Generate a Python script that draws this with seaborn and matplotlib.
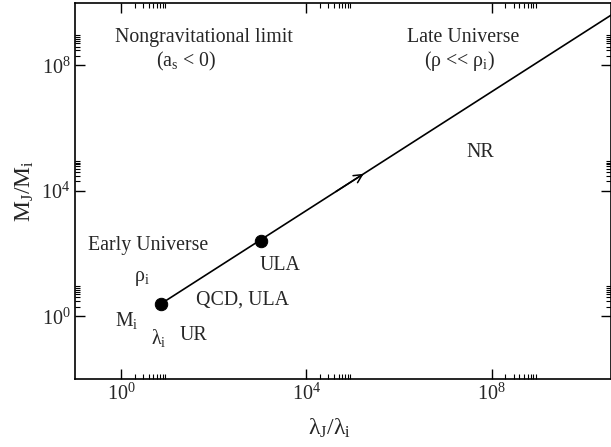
import numpy as np
import pandas as pd
import matplotlib
matplotlib.use("Agg")
import matplotlib.pyplot as plt
import matplotlib.ticker as mticker
import seaborn as sns

# ---- data ----
line_x = [7.4, 1.0e11]          # lambda_J / lambda_i along the track
line_y = [2.54, 1.0e10]         # M_J / M_i along the track
dot_x = [7.4, 1070.0]
dot_y = [2.54, 257.0]
arrow_x = [1.74e5]              # where the direction arrow sits on the track
x_ticks = [1e0, 1e4, 1e8]
y_ticks = [1e0, 1e4, 1e8]
x_limits = [1e-1, 10 ** 10.58]
y_limits = [1e-2, 1e10]

labels = [
    # text, log10 x, log10 y
    ("Nongravitational limit", 1.78, 8.90),
    ("(a$_\\mathrm{s}$ < 0)", 1.40, 8.13),
    ("Late Universe", 7.38, 8.88),
    ("(ρ << ρ$_\\mathrm{i}$)", 7.30, 8.13),
    ("NR", 7.75, 5.21),
    ("Early Universe", 0.58, 2.27),
    ("ρ$_\\mathrm{i}$", 0.45, 1.20),
    ("M$_\\mathrm{i}$", 0.125, -0.15),
    ("λ$_\\mathrm{i}$", 0.81, -0.70),
    ("UR", 1.57, -0.61),
    ("QCD, ULA", 2.62, 0.51),
    ("ULA", 3.44, 1.63),
]

sns.set_style("ticks")
plt.rcParams["font.family"] = ["Liberation Serif", "DejaVu Serif"]
plt.rcParams["mathtext.fontset"] = "custom"
plt.rcParams["mathtext.rm"] = "Liberation Serif"
plt.rcParams["mathtext.it"] = "Liberation Serif"
plt.rcParams["mathtext.bf"] = "Liberation Serif:bold"

fig = plt.figure(figsize=(6.11, 4.47), dpi=100)
ax = fig.add_axes([74.7 / 611, (447 - 379) / 447, (611 - 74.7) / 611, (379 - 2.7) / 447])

line_df = pd.DataFrame({"x": line_x, "y": line_y})
dot_df = pd.DataFrame({"x": dot_x, "y": dot_y})
sns.lineplot(data=line_df, x="x", y="y", ax=ax, color="black", lw=1.2, sort=False)
sns.scatterplot(data=dot_df, x="x", y="y", ax=ax, color="black", s=80, edgecolor="black", zorder=5)

ax.set_xscale("log")
ax.set_yscale("log")
ax.set_xlim(*x_limits)
ax.set_ylim(*y_limits)

# arrow on the track
lx = np.log10(line_x)
ly = np.log10(line_y)
ax_log = np.log10(arrow_x[0])
ay_log = np.interp(ax_log, lx, ly)
bx_log = ax_log - 0.6
by_log = np.interp(bx_log, lx, ly)
ax.annotate("", xy=(10 ** ax_log, 10 ** ay_log), xytext=(10 ** bx_log, 10 ** by_log),
            arrowprops=dict(arrowstyle="->", color="black", lw=1.1, mutation_scale=15,
                            shrinkA=0, shrinkB=0))

for txt, lxp, lyp in labels:
    ax.text(10 ** lxp, 10 ** lyp, txt, ha="center", va="center", fontsize=14.3)

ax.set_xticks(x_ticks)
ax.set_yticks(y_ticks)
fmt = mticker.FuncFormatter(lambda v, p: "$10^{%d}$" % int(round(np.log10(v))))
ax.xaxis.set_major_formatter(fmt)
ax.yaxis.set_major_formatter(fmt)
minor_x = [t * m for t in x_ticks for m in range(2, 10)]
minor_y = [t * m for t in y_ticks for m in range(2, 10)]
ax.xaxis.set_minor_locator(mticker.FixedLocator(minor_x))
ax.yaxis.set_minor_locator(mticker.FixedLocator(minor_y))
ax.xaxis.set_minor_formatter(mticker.NullFormatter())
ax.yaxis.set_minor_formatter(mticker.NullFormatter())
ax.tick_params(which="both", direction="in", top=True, right=True, labelsize=14.5, color="black")
ax.tick_params(which="major", length=7, width=1.0, pad=3)
ax.tick_params(which="minor", length=3.5, width=0.8)
for s in ax.spines.values():
    s.set_visible(True)
    s.set_linewidth(1.2)
    s.set_color("black")

ax.set_xlabel("λ$_\\mathrm{J}$/λ$_\\mathrm{i}$", fontsize=17)
ax.set_ylabel("M$_\\mathrm{J}$/M$_\\mathrm{i}$", fontsize=17)
ax.xaxis.set_label_coords(0.476, -0.10)
ax.yaxis.set_label_coords(-0.072, 0.50)

fig.savefig("out.png", dpi=100)
